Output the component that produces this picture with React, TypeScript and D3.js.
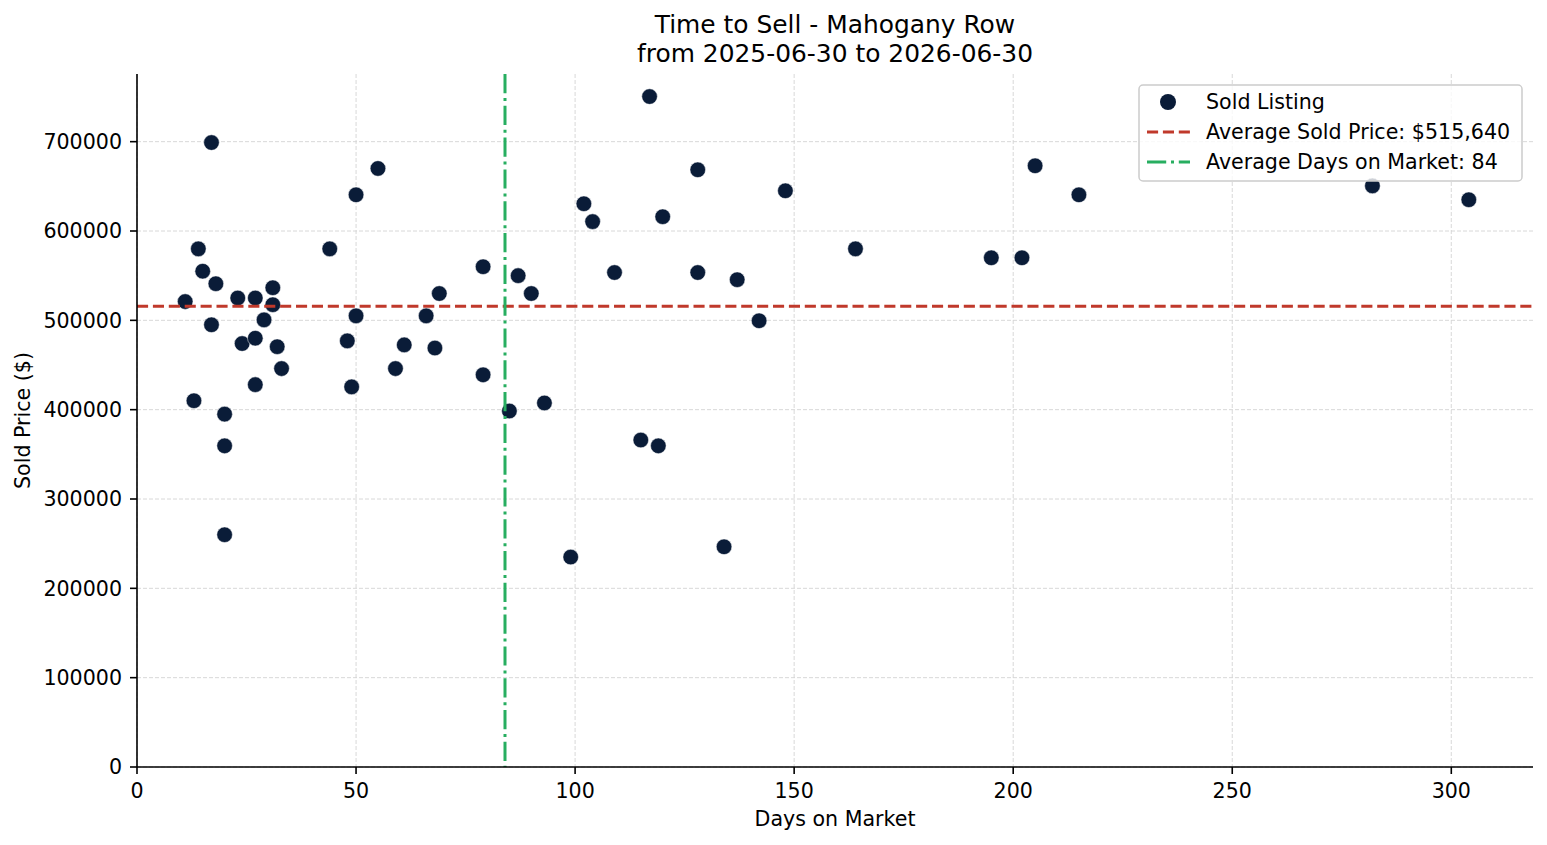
import React from "react";
import * as d3 from "d3";

const days = [11, 13, 14, 15, 17, 17, 18, 20, 20, 20, 23, 24, 27, 27, 27, 29, 31, 31, 32, 33,
  44, 48, 49, 50, 50, 55, 59, 61, 66, 68, 69, 79, 79, 85, 87, 90, 93, 99, 102, 104,
  109, 115, 117, 119, 120, 128, 128, 134, 137, 142, 148, 164, 195, 202, 205, 215, 282, 304];
const prices = [521000, 410000, 580000, 555000, 699000, 495000, 541000, 395000, 359500, 260000,
  525000, 474000, 525000, 480000, 428000, 500500, 536500, 517500, 470500, 446000,
  580000, 477000, 425500, 640500, 505000, 670000, 446000, 472500, 505000, 469000,
  530000, 439000, 560000, 398500, 550000, 530000, 407500, 235000, 630500, 610500,
  553500, 366000, 750500, 359500, 616000, 668500, 553500, 246500, 545500, 499500,
  645000, 580000, 570000, 570000, 673000, 640500, 650500, 635000];

const xTicks = [0, 50, 100, 150, 200, 250, 300];
const yTicks = [0, 100000, 200000, 300000, 400000, 500000, 600000, 700000];
const avgPrice = 515640;
const avgDays = 84;
const titleLines = ["Time to Sell - Mahogany Row", "from 2025-06-30 to 2026-06-30"];
const legendLabels = ["Sold Listing", "Average Sold Price: $515,640", "Average Days on Market: 84"];

const W = 1547, H = 845;
const M = { left: 137, right: 1533, top: 74, bottom: 767 };
const FONT = "DejaVu Sans, sans-serif";
const NAVY = "#0a1c38";
const RED = "#c0392b";
const GREEN = "#27ae60";
const FS = 20.6;
const TFS = 24.9;

export default function App() {
  const x = d3.scaleLinear().domain([0, 318.65]).range([M.left, M.right]);
  const y = d3.scaleLinear().domain([0, 775750]).range([M.bottom, M.top]);
  const cx = (M.left + M.right) / 2;
  const cy = (M.top + M.bottom) / 2;
  const lg = { x: 1139, y: 85, w: 383, h: 96 };
  return (
    <svg width={W} height={H} style={{ position: "absolute", left: 0, top: 0, background: "#fff" }} fontFamily={FONT}>
      <rect x={0} y={0} width={W} height={H} fill="#fff" />
      {xTicks.map((t) => (
        <line key={"gx" + t} x1={x(t)} x2={x(t)} y1={M.top} y2={M.bottom} stroke="#d4d4d4" strokeWidth={0.9} strokeDasharray="4,2" />
      ))}
      {yTicks.map((t) => (
        <line key={"gy" + t} x1={M.left} x2={M.right} y1={y(t)} y2={y(t)} stroke="#d4d4d4" strokeWidth={0.9} strokeDasharray="4,2" />
      ))}
      {days.map((d, i) => (
        <circle key={i} cx={x(d)} cy={y(prices[i])} r={7.8} fill={NAVY} stroke="#fff" strokeWidth={0.5} />
      ))}
      <line x1={M.left} x2={M.right} y1={y(avgPrice)} y2={y(avgPrice)} stroke={RED} strokeWidth={3} strokeDasharray="11.1,4.8" />
      <line x1={x(avgDays)} x2={x(avgDays)} y1={M.top} y2={M.bottom} stroke={GREEN} strokeWidth={3} strokeDasharray="19.2,4.8,3,4.8" />
      <line x1={M.left} x2={M.left} y1={M.top} y2={M.bottom} stroke="#000" strokeWidth={1.6} />
      <line x1={M.left} x2={M.right} y1={M.bottom} y2={M.bottom} stroke="#000" strokeWidth={1.6} />
      {xTicks.map((t) => (
        <g key={"xt" + t}>
          <line x1={x(t)} x2={x(t)} y1={M.bottom} y2={M.bottom + 7} stroke="#000" strokeWidth={1.6} />
          <text x={x(t)} y={798} textAnchor="middle" fontSize={FS} fill="#000">{t}</text>
        </g>
      ))}
      {yTicks.map((t) => (
        <g key={"yt" + t}>
          <line x1={M.left - 7} x2={M.left} y1={y(t)} y2={y(t)} stroke="#000" strokeWidth={1.6} />
          <text x={122} y={y(t)} dy="0.36em" textAnchor="end" fontSize={FS} fill="#000">{t}</text>
        </g>
      ))}
      <text x={cx} y={826} textAnchor="middle" fontSize={FS} fill="#000">Days on Market</text>
      <text transform={`translate(30,${cy}) rotate(-90)`} textAnchor="middle" fontSize={FS} fill="#000">Sold Price ($)</text>
      <text x={cx} y={33} textAnchor="middle" fontSize={TFS} fill="#000">{titleLines[0]}</text>
      <text x={cx} y={62} textAnchor="middle" fontSize={TFS} fill="#000">{titleLines[1]}</text>
      <rect x={lg.x} y={lg.y} width={lg.w} height={lg.h} rx={4} fill="#fff" fillOpacity={0.8} stroke="#cccccc" strokeWidth={1.5} />
      <circle cx={1168} cy={102} r={8} fill={NAVY} />
      <line x1={1147} x2={1190} y1={132} y2={132} stroke={RED} strokeWidth={3} strokeDasharray="11.1,4.8" />
      <line x1={1147} x2={1190} y1={162} y2={162} stroke={GREEN} strokeWidth={3} strokeDasharray="19.2,4.8,3,4.8" />
      {legendLabels.map((l, i) => (
        <text key={l} x={1206} y={102 + i * 30} dy="0.36em" fontSize={FS} fill="#000">{l}</text>
      ))}
    </svg>
  );
}
